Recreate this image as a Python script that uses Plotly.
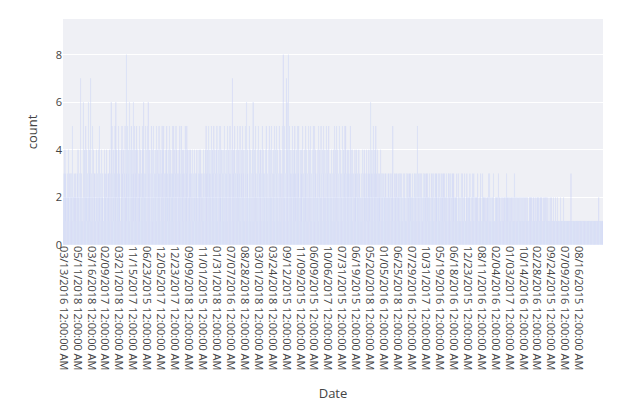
import plotly.graph_objects as go

segments = [
"213142312231421323132512231213123142",
"231372312163421254213162341723152413",
"231142132415213142321134213142132314",
"326153142135261423154231142513243152",
"283154236142513426315234152431253142",
"315426231534152613243152341523142351",
"243152341235142531234152314253142315",
"315243152431234152351423142351235142",
"142314231423142132341231423142312341",
"234152314253142351423154231425314235",
"352143243152314235142315234172314253",
"314253241352143251342153261432153241",
"324163142351234152314243152341234152",
"231425134252314235142351423152341235",
"384152317263481523142351234152314253",
"352143243152314235142315234152314253",
"251342134251342153241352143251342153",
"232142314235142351423152341235142315",
"253142314235142341232142314232142321",
"231423142312341231423163142351234152",
"324132231423132312231321123132231213",
"251231123132231213312312132231123132",
"213132312231123132231513123132231213",
"231213132312231123132231213132312231",
"132231213132312231123132231213132312",
"212131123121213132121231112312212131",
"121231132121212131121123112312212121",
"121213131212121231112121212312121121",
"121121212132121212112121212131121212",
"112121212112121211212121112121212112",
"121112112121211212121121112121211211",
"112111211121111211121111112111111211",
"111111111111113111111111111111111111",
"111111111111111111111111111111111111",
"1111112111111111",
]
counts = [int(c) for s in segments for c in s]

tick_labels = ["03/13/2016","05/11/2018","03/16/2018","02/09/2017","03/21/2018","11/15/2017",
"06/23/2015","12/05/2017","12/23/2017","09/09/2018","11/01/2015","01/31/2018","07/07/2016",
"08/28/2018","03/01/2018","03/24/2018","09/12/2015","11/09/2015","06/09/2015","10/06/2017",
"07/31/2015","06/19/2015","05/20/2018","01/05/2016","06/25/2018","07/29/2016","10/31/2017",
"05/19/2016","06/18/2016","12/23/2015","08/11/2016","02/04/2016","01/03/2017","10/14/2016",
"02/28/2016","09/24/2015","07/09/2016","08/16/2015"]
tick_text = [t + " 12:00:00 AM" for t in tick_labels]
tick_step = 32
tick_vals = [i * tick_step for i in range(len(tick_text))]

N = len(counts)
fig = go.Figure(go.Bar(x=list(range(N)), y=counts, marker_color="#636efa", opacity=0.7))
fig.update_layout(
    template="plotly", width=628, height=405,
    margin=dict(l=55, r=33, t=11, b=168, autoexpand=False),
    bargap=0.2, showlegend=False,
    plot_bgcolor="#eff0f5",
    font=dict(family="Open Sans", size=11, color="#444"),
)
fig.update_xaxes(title_text="Date", tickvals=tick_vals, ticktext=tick_text,
                 tickangle=90, range=[-0.5, N - 0.5], automargin=False,
                 title_standoff=19)
fig.update_yaxes(title_text="count", range=[0, 9.5], dtick=2, automargin=False,
                 gridcolor="white")
fig.write_html("out.html")
